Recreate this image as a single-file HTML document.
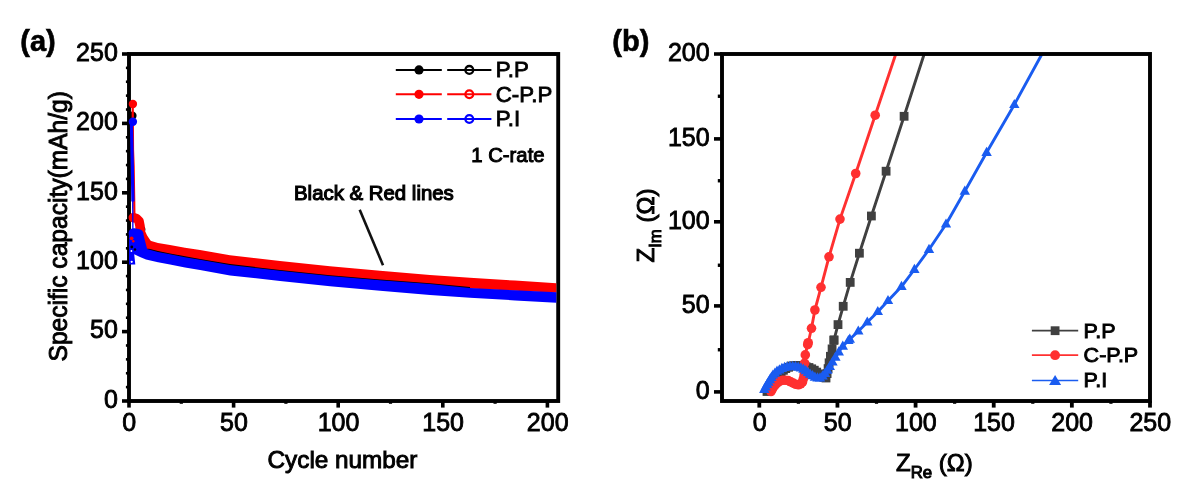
<!DOCTYPE html>
<html><head><meta charset="utf-8"><title>Figure</title>
<style>html,body{margin:0;padding:0;background:#fff;}svg{display:block;}text{font-family:"Liberation Sans",sans-serif;}</style></head>
<body>
<svg width="1188" height="492" viewBox="0 0 1188 492"  fill="#000">
<rect width="1188" height="492" fill="#fff"/>
<g id="left-axes">
<rect x="129.0" y="54.0" width="429.20" height="347.00" fill="none" stroke="#000" stroke-width="3.9"/>
<line x1="122.00" y1="401.00" x2="129.00" y2="401.00" stroke="#000" stroke-width="3.6" stroke-linecap="butt"/>
<line x1="122.00" y1="331.60" x2="129.00" y2="331.60" stroke="#000" stroke-width="3.6" stroke-linecap="butt"/>
<line x1="122.00" y1="262.20" x2="129.00" y2="262.20" stroke="#000" stroke-width="3.6" stroke-linecap="butt"/>
<line x1="122.00" y1="192.80" x2="129.00" y2="192.80" stroke="#000" stroke-width="3.6" stroke-linecap="butt"/>
<line x1="122.00" y1="123.40" x2="129.00" y2="123.40" stroke="#000" stroke-width="3.6" stroke-linecap="butt"/>
<line x1="122.00" y1="54.00" x2="129.00" y2="54.00" stroke="#000" stroke-width="3.6" stroke-linecap="butt"/>
<line x1="125.90" y1="387.12" x2="129.00" y2="387.12" stroke="#000" stroke-width="2.6" stroke-linecap="butt"/>
<line x1="125.90" y1="373.24" x2="129.00" y2="373.24" stroke="#000" stroke-width="2.6" stroke-linecap="butt"/>
<line x1="125.90" y1="359.36" x2="129.00" y2="359.36" stroke="#000" stroke-width="2.6" stroke-linecap="butt"/>
<line x1="125.90" y1="345.48" x2="129.00" y2="345.48" stroke="#000" stroke-width="2.6" stroke-linecap="butt"/>
<line x1="125.90" y1="317.72" x2="129.00" y2="317.72" stroke="#000" stroke-width="2.6" stroke-linecap="butt"/>
<line x1="125.90" y1="303.84" x2="129.00" y2="303.84" stroke="#000" stroke-width="2.6" stroke-linecap="butt"/>
<line x1="125.90" y1="289.96" x2="129.00" y2="289.96" stroke="#000" stroke-width="2.6" stroke-linecap="butt"/>
<line x1="125.90" y1="276.08" x2="129.00" y2="276.08" stroke="#000" stroke-width="2.6" stroke-linecap="butt"/>
<line x1="125.90" y1="248.32" x2="129.00" y2="248.32" stroke="#000" stroke-width="2.6" stroke-linecap="butt"/>
<line x1="125.90" y1="234.44" x2="129.00" y2="234.44" stroke="#000" stroke-width="2.6" stroke-linecap="butt"/>
<line x1="125.90" y1="220.56" x2="129.00" y2="220.56" stroke="#000" stroke-width="2.6" stroke-linecap="butt"/>
<line x1="125.90" y1="206.68" x2="129.00" y2="206.68" stroke="#000" stroke-width="2.6" stroke-linecap="butt"/>
<line x1="125.90" y1="178.92" x2="129.00" y2="178.92" stroke="#000" stroke-width="2.6" stroke-linecap="butt"/>
<line x1="125.90" y1="165.04" x2="129.00" y2="165.04" stroke="#000" stroke-width="2.6" stroke-linecap="butt"/>
<line x1="125.90" y1="151.16" x2="129.00" y2="151.16" stroke="#000" stroke-width="2.6" stroke-linecap="butt"/>
<line x1="125.90" y1="137.28" x2="129.00" y2="137.28" stroke="#000" stroke-width="2.6" stroke-linecap="butt"/>
<line x1="125.90" y1="109.52" x2="129.00" y2="109.52" stroke="#000" stroke-width="2.6" stroke-linecap="butt"/>
<line x1="125.90" y1="95.64" x2="129.00" y2="95.64" stroke="#000" stroke-width="2.6" stroke-linecap="butt"/>
<line x1="125.90" y1="81.76" x2="129.00" y2="81.76" stroke="#000" stroke-width="2.6" stroke-linecap="butt"/>
<line x1="125.90" y1="67.88" x2="129.00" y2="67.88" stroke="#000" stroke-width="2.6" stroke-linecap="butt"/>
<line x1="129.00" y1="401.00" x2="129.00" y2="407.60" stroke="#000" stroke-width="3.6" stroke-linecap="butt"/>
<line x1="233.60" y1="401.00" x2="233.60" y2="407.60" stroke="#000" stroke-width="3.6" stroke-linecap="butt"/>
<line x1="338.20" y1="401.00" x2="338.20" y2="407.60" stroke="#000" stroke-width="3.6" stroke-linecap="butt"/>
<line x1="442.80" y1="401.00" x2="442.80" y2="407.60" stroke="#000" stroke-width="3.6" stroke-linecap="butt"/>
<line x1="547.40" y1="401.00" x2="547.40" y2="407.60" stroke="#000" stroke-width="3.6" stroke-linecap="butt"/>
<line x1="181.30" y1="401.00" x2="181.30" y2="403.80" stroke="#000" stroke-width="3.2" stroke-linecap="butt"/>
<line x1="285.90" y1="401.00" x2="285.90" y2="403.80" stroke="#000" stroke-width="3.2" stroke-linecap="butt"/>
<line x1="390.50" y1="401.00" x2="390.50" y2="403.80" stroke="#000" stroke-width="3.2" stroke-linecap="butt"/>
<line x1="495.10" y1="401.00" x2="495.10" y2="403.80" stroke="#000" stroke-width="3.2" stroke-linecap="butt"/>
</g>
<g id="left-data">
<polygon points="146.0,239.6 158.0,243.0 170.0,245.1 185.0,247.8 200.0,250.0 230.0,255.2 280.0,261.0 330.0,266.3 380.0,270.8 430.0,275.0 470.0,277.7 515.0,280.6 556.3,283.2 556.3,292.8 515.0,290.8 470.0,288.5 430.0,284.6 380.0,280.8 330.0,276.6 280.0,271.3 230.0,265.5 200.0,260.3 185.0,257.7 170.0,254.8 158.0,252.5 146.0,249.3" fill="#f00"/>
<polygon points="146.0,247.9 158.0,251.1 170.0,253.4 185.0,256.3 200.0,258.9 230.0,264.1 280.0,269.9 330.0,275.2 380.0,279.4 430.0,283.2 470.0,287.1 470.0,288.9 430.0,285.0 380.0,281.2 330.0,277.0 280.0,271.7 230.0,265.9 200.0,260.7 185.0,258.1 170.0,255.2 158.0,252.9 146.0,249.7" fill="#000"/>
<circle cx="132.4" cy="115.8" r="4.2" fill="#000"/>
<circle cx="142" cy="229.5" r="3.4" fill="#000"/>
<polyline points="132.7,104 133,150 133.6,166 134.2,201 134.4,216" fill="none" stroke="#f00" stroke-width="2.2"/>
<circle cx="132.9" cy="104" r="4.2" fill="#f00"/>
<polyline points="133.3,217.6 136.5,218.5 139,221 140,226 140.3,232 143,238 147,244" fill="none" stroke="#f00" stroke-width="9.5" stroke-linecap="round" stroke-linejoin="round"/>
<circle cx="131.8" cy="238" r="2.6" fill="#f00"/>
<polygon points="146.0,248.8 158.0,252.0 170.0,254.3 185.0,257.2 200.0,259.8 230.0,265.0 280.0,270.8 330.0,276.1 380.0,280.3 430.0,284.1 470.0,288.0 515.0,290.3 556.3,292.3 556.3,302.7 515.0,300.4 470.0,297.8 430.0,295.1 380.0,290.8 330.0,286.2 280.0,281.0 230.0,275.4 200.0,270.1 185.0,267.5 170.0,264.6 158.0,262.3 146.0,259.5" fill="#00f"/>
<polyline points="131.4,122 132.4,170 132.9,201.5" fill="none" stroke="#00f" stroke-width="3.2"/>
<polyline points="132.7,201 132.9,232" fill="none" stroke="#00f" stroke-width="1.3"/>
<circle cx="132.9" cy="121.8" r="4.2" fill="#00f"/>
<polyline points="133.6,233.2 138.6,234.2" fill="none" stroke="#00f" stroke-width="10" stroke-linecap="round"/>
<polygon points="129,235 143.5,235 147,248.6 146,259.5 140,257 134.2,254.2 135.3,264.5 129,264.5" fill="#00f"/>
<circle cx="131.7" cy="261.8" r="1.1" fill="#fff"/>
<circle cx="131.6" cy="238.3" r="1.9" fill="#f00"/>
<circle cx="133.3" cy="241.2" r="1.2" fill="#f00"/>
<circle cx="131.8" cy="247" r="1.4" fill="#000"/>
<circle cx="135" cy="249.5" r="1.2" fill="#000"/>
<circle cx="131.4" cy="251" r="0.9" fill="#fff"/>
</g>
<g id="left-legend">
<line x1="395.80" y1="69.90" x2="441.80" y2="69.90" stroke="#000" stroke-width="2" stroke-linecap="butt"/>
<circle cx="419" cy="69.9" r="4.6" fill="#000"/>
<line x1="447.20" y1="69.90" x2="491.40" y2="69.90" stroke="#000" stroke-width="2" stroke-linecap="butt"/>
<circle cx="469.3" cy="69.9" r="3.9" fill="none" stroke="#000" stroke-width="2.3"/>
<text transform="translate(495.8,77.10) scale(1.045,1)" font-size="21.3" stroke="#000" stroke-width="0.8">P.P</text>
<line x1="395.80" y1="94.30" x2="441.80" y2="94.30" stroke="#f00" stroke-width="2" stroke-linecap="butt"/>
<circle cx="419" cy="94.3" r="4.6" fill="#f00"/>
<line x1="447.20" y1="94.30" x2="491.40" y2="94.30" stroke="#f00" stroke-width="2" stroke-linecap="butt"/>
<circle cx="469.3" cy="94.3" r="3.9" fill="none" stroke="#f00" stroke-width="2.3"/>
<text transform="translate(495.8,101.50) scale(1.045,1)" font-size="21.3" stroke="#000" stroke-width="0.8">C-P.P</text>
<line x1="395.80" y1="119.00" x2="441.80" y2="119.00" stroke="#00f" stroke-width="2" stroke-linecap="butt"/>
<circle cx="419" cy="119" r="4.6" fill="#00f"/>
<line x1="447.20" y1="119.00" x2="491.40" y2="119.00" stroke="#00f" stroke-width="2" stroke-linecap="butt"/>
<circle cx="469.3" cy="119" r="3.9" fill="none" stroke="#00f" stroke-width="2.3"/>
<text transform="translate(495.8,126.20) scale(1.045,1)" font-size="21.3" stroke="#000" stroke-width="0.8">P.I</text>
</g>
<text x="471.30" y="161.90" font-size="20.3" text-anchor="start" font-weight="normal" stroke="#000" stroke-width="1.0" >1 C-rate</text>
<text x="294.00" y="200.30" font-size="20.4" text-anchor="start" font-weight="normal" stroke="#000" stroke-width="1.15" >Black &amp; Red lines</text>
<line x1="359.70" y1="209.70" x2="383.00" y2="265.20" stroke="#111" stroke-width="2.6" stroke-linecap="butt"/>
<text x="117.80" y="407.70" font-size="25" text-anchor="end" font-weight="normal" stroke="#000" stroke-width="0.85" >0</text>
<text x="117.80" y="338.30" font-size="25" text-anchor="end" font-weight="normal" stroke="#000" stroke-width="0.85" >50</text>
<text x="117.80" y="268.90" font-size="25" text-anchor="end" font-weight="normal" stroke="#000" stroke-width="0.85" >100</text>
<text x="117.80" y="199.50" font-size="25" text-anchor="end" font-weight="normal" stroke="#000" stroke-width="0.85" >150</text>
<text x="117.80" y="130.10" font-size="25" text-anchor="end" font-weight="normal" stroke="#000" stroke-width="0.85" >200</text>
<text x="117.80" y="60.70" font-size="25" text-anchor="end" font-weight="normal" stroke="#000" stroke-width="0.85" >250</text>
<text x="129.30" y="430.90" font-size="25" text-anchor="middle" font-weight="normal" stroke="#000" stroke-width="0.85" >0</text>
<text x="233.90" y="430.90" font-size="25" text-anchor="middle" font-weight="normal" stroke="#000" stroke-width="0.85" >50</text>
<text x="338.50" y="430.90" font-size="25" text-anchor="middle" font-weight="normal" stroke="#000" stroke-width="0.85" >100</text>
<text x="443.10" y="430.90" font-size="25" text-anchor="middle" font-weight="normal" stroke="#000" stroke-width="0.85" >150</text>
<text x="547.70" y="430.90" font-size="25" text-anchor="middle" font-weight="normal" stroke="#000" stroke-width="0.85" >200</text>
<text x="342.50" y="468.20" font-size="24.3" text-anchor="middle" font-weight="normal" stroke="#000" stroke-width="0.95" >Cycle number</text>
<text transform="translate(67.3,226.3) rotate(-90) scale(0.953,1)" font-size="25.8" text-anchor="middle" stroke="#000" stroke-width="0.95">Specific capacity(mAh/g)</text>
<text x="20.30" y="50.50" font-size="29" text-anchor="start" font-weight="bold" stroke="#000" stroke-width="0.6" >(a)</text>
<g id="right-data">
<clipPath id="rc"><rect x="722" y="52.5" width="428" height="348"/></clipPath>
<g clip-path="url(#rc)">
<polyline points="767.0,391.5 770.0,386.0 774.0,380.0 779.0,374.0 785.0,369.0 791.0,366.0 797.0,365.5 803.0,366.0 809.0,367.5 814.0,370.0 818.5,373.5 822.5,377.0 826.0,378.0 827.5,372.0 828.7,365.0 830.0,358.0 832.0,349.5 834.0,339.8 838.0,324.6 843.2,306.3 850.2,282.4 859.4,253.2 871.4,216.0 886.1,171.2 904.1,116.3 924.2,54.0" fill="none" stroke="#404040" stroke-width="2.9" stroke-linejoin="round"/>
<rect x="762.6" y="387.1" width="8.8" height="8.8" fill="#404040"/>
<rect x="764.0" y="384.5" width="8.8" height="8.8" fill="#404040"/>
<rect x="765.5" y="381.8" width="8.8" height="8.8" fill="#404040"/>
<rect x="767.1" y="379.3" width="8.8" height="8.8" fill="#404040"/>
<rect x="768.8" y="376.8" width="8.8" height="8.8" fill="#404040"/>
<rect x="770.6" y="374.4" width="8.8" height="8.8" fill="#404040"/>
<rect x="772.5" y="372.1" width="8.8" height="8.8" fill="#404040"/>
<rect x="774.4" y="369.8" width="8.8" height="8.8" fill="#404040"/>
<rect x="776.7" y="367.9" width="8.8" height="8.8" fill="#404040"/>
<rect x="779.0" y="365.9" width="8.8" height="8.8" fill="#404040"/>
<rect x="781.4" y="364.2" width="8.8" height="8.8" fill="#404040"/>
<rect x="784.1" y="362.9" width="8.8" height="8.8" fill="#404040"/>
<rect x="786.8" y="361.6" width="8.8" height="8.8" fill="#404040"/>
<rect x="789.8" y="361.3" width="8.8" height="8.8" fill="#404040"/>
<rect x="792.8" y="361.1" width="8.8" height="8.8" fill="#404040"/>
<rect x="795.8" y="361.4" width="8.8" height="8.8" fill="#404040"/>
<rect x="798.7" y="361.6" width="8.8" height="8.8" fill="#404040"/>
<rect x="801.7" y="362.4" width="8.8" height="8.8" fill="#404040"/>
<rect x="804.6" y="363.1" width="8.8" height="8.8" fill="#404040"/>
<rect x="807.3" y="364.4" width="8.8" height="8.8" fill="#404040"/>
<rect x="809.9" y="365.8" width="8.8" height="8.8" fill="#404040"/>
<rect x="812.3" y="367.7" width="8.8" height="8.8" fill="#404040"/>
<rect x="814.6" y="369.5" width="8.8" height="8.8" fill="#404040"/>
<rect x="816.9" y="371.5" width="8.8" height="8.8" fill="#404040"/>
<rect x="819.4" y="373.0" width="8.8" height="8.8" fill="#404040"/>
<rect x="821.6" y="373.6" width="8.8" height="8.8" fill="#404040"/>
<rect x="822.7" y="369.2" width="8.8" height="8.8" fill="#404040"/>
<rect x="823.7" y="364.2" width="8.8" height="8.8" fill="#404040"/>
<rect x="824.7" y="358.4" width="8.8" height="8.8" fill="#404040"/>
<rect x="826.0" y="351.9" width="8.8" height="8.8" fill="#404040"/>
<rect x="827.7" y="344.5" width="8.8" height="8.8" fill="#404040"/>
<rect x="829.5" y="336.0" width="8.8" height="8.8" fill="#404040"/>
<rect x="829.6" y="335.4" width="8.8" height="8.8" fill="#404040"/>
<rect x="833.6" y="320.2" width="8.8" height="8.8" fill="#404040"/>
<rect x="838.8" y="301.9" width="8.8" height="8.8" fill="#404040"/>
<rect x="845.8" y="278.0" width="8.8" height="8.8" fill="#404040"/>
<rect x="855.0" y="248.8" width="8.8" height="8.8" fill="#404040"/>
<rect x="867.0" y="211.6" width="8.8" height="8.8" fill="#404040"/>
<rect x="881.7" y="166.8" width="8.8" height="8.8" fill="#404040"/>
<rect x="899.7" y="111.9" width="8.8" height="8.8" fill="#404040"/>
<polyline points="771.0,391.5 773.5,387.0 776.5,383.5 780.0,381.0 784.0,380.0 788.0,380.5 792.0,382.5 796.0,384.5 799.5,385.0 802.5,382.0 804.0,376.0 804.5,368.0 804.6,360.0 805.6,352.8 808.2,342.7 811.5,328.3 814.9,310.0 821.0,287.3 829.0,256.8 840.0,219.1 855.7,173.5 875.2,115.2 895.8,54.0" fill="none" stroke="#ff3030" stroke-width="2.9" stroke-linejoin="round"/>
<circle cx="771.0" cy="391.5" r="4.8" fill="#ff3030"/>
<circle cx="772.4" cy="389.1" r="4.8" fill="#ff3030"/>
<circle cx="773.8" cy="386.7" r="4.8" fill="#ff3030"/>
<circle cx="775.6" cy="384.5" r="4.8" fill="#ff3030"/>
<circle cx="777.7" cy="382.7" r="4.8" fill="#ff3030"/>
<circle cx="780.0" cy="381.0" r="4.8" fill="#ff3030"/>
<circle cx="782.7" cy="380.3" r="4.8" fill="#ff3030"/>
<circle cx="785.4" cy="380.2" r="4.8" fill="#ff3030"/>
<circle cx="788.2" cy="380.6" r="4.8" fill="#ff3030"/>
<circle cx="790.7" cy="381.8" r="4.8" fill="#ff3030"/>
<circle cx="793.2" cy="383.1" r="4.8" fill="#ff3030"/>
<circle cx="795.7" cy="384.3" r="4.8" fill="#ff3030"/>
<circle cx="798.4" cy="384.8" r="4.8" fill="#ff3030"/>
<circle cx="800.7" cy="383.8" r="4.8" fill="#ff3030"/>
<circle cx="802.5" cy="382.0" r="4.8" fill="#ff3030"/>
<circle cx="803.3" cy="378.9" r="4.8" fill="#ff3030"/>
<circle cx="804.1" cy="374.9" r="4.8" fill="#ff3030"/>
<circle cx="804.4" cy="369.8" r="4.8" fill="#ff3030"/>
<circle cx="804.6" cy="363.2" r="4.8" fill="#ff3030"/>
<circle cx="805.3" cy="354.9" r="4.8" fill="#ff3030"/>
<circle cx="807.7" cy="344.7" r="4.8" fill="#ff3030"/>
<circle cx="808.2" cy="342.7" r="4.8" fill="#ff3030"/>
<circle cx="811.5" cy="328.3" r="4.8" fill="#ff3030"/>
<circle cx="814.9" cy="310.0" r="4.8" fill="#ff3030"/>
<circle cx="821.0" cy="287.3" r="4.8" fill="#ff3030"/>
<circle cx="829.0" cy="256.8" r="4.8" fill="#ff3030"/>
<circle cx="840.0" cy="219.1" r="4.8" fill="#ff3030"/>
<circle cx="855.7" cy="173.5" r="4.8" fill="#ff3030"/>
<circle cx="875.2" cy="115.2" r="4.8" fill="#ff3030"/>
<polyline points="764.3,389.6 766.5,385.5 769.5,380.5 773.0,375.0 777.5,371.0 783.0,368.0 789.0,366.5 795.0,366.5 801.0,368.0 806.0,371.0 811.0,375.0 816.0,378.0 820.0,378.0 824.0,375.0 828.0,369.5 832.0,363.0 836.0,356.5 839.5,351.0 843.0,346.0 849.8,339.3 858.3,331.2 867.3,322.2 877.8,311.7 888.0,300.7 901.5,286.6 914.4,269.5 929.0,249.5 946.0,224.2 964.8,191.3 986.6,152.5 1014.3,104.7 1042.0,54.0" fill="none" stroke="#1a5cf0" stroke-width="2.9" stroke-linejoin="round"/>
<polygon points="764.3,383.8 759.1,393.0 769.5,393.0" fill="#1a5cf0"/>
<polygon points="765.6,381.3 760.4,390.5 770.8,390.5" fill="#1a5cf0"/>
<polygon points="767.0,378.9 761.8,388.1 772.2,388.1" fill="#1a5cf0"/>
<polygon points="768.4,376.5 763.2,385.7 773.6,385.7" fill="#1a5cf0"/>
<polygon points="769.9,374.1 764.7,383.3 775.1,383.3" fill="#1a5cf0"/>
<polygon points="771.4,371.7 766.2,380.9 776.6,380.9" fill="#1a5cf0"/>
<polygon points="772.9,369.4 767.7,378.6 778.1,378.6" fill="#1a5cf0"/>
<polygon points="774.9,367.5 769.7,376.7 780.1,376.7" fill="#1a5cf0"/>
<polygon points="777.0,365.6 771.8,374.8 782.2,374.8" fill="#1a5cf0"/>
<polygon points="779.4,364.2 774.2,373.4 784.6,373.4" fill="#1a5cf0"/>
<polygon points="781.9,362.8 776.7,372.0 787.1,372.0" fill="#1a5cf0"/>
<polygon points="784.5,361.8 779.3,371.0 789.7,371.0" fill="#1a5cf0"/>
<polygon points="787.2,361.2 782.0,370.4 792.4,370.4" fill="#1a5cf0"/>
<polygon points="789.9,360.7 784.7,369.9 795.1,369.9" fill="#1a5cf0"/>
<polygon points="792.7,360.7 787.5,369.9 797.9,369.9" fill="#1a5cf0"/>
<polygon points="795.5,360.8 790.3,370.0 800.7,370.0" fill="#1a5cf0"/>
<polygon points="798.2,361.5 793.0,370.7 803.4,370.7" fill="#1a5cf0"/>
<polygon points="800.9,362.2 795.7,371.4 806.1,371.4" fill="#1a5cf0"/>
<polygon points="803.4,363.6 798.2,372.8 808.6,372.8" fill="#1a5cf0"/>
<polygon points="805.8,365.1 800.6,374.3 811.0,374.3" fill="#1a5cf0"/>
<polygon points="808.0,366.8 802.8,376.0 813.2,376.0" fill="#1a5cf0"/>
<polygon points="810.1,368.5 804.9,377.7 815.3,377.7" fill="#1a5cf0"/>
<polygon points="812.5,370.1 807.3,379.3 817.7,379.3" fill="#1a5cf0"/>
<polygon points="814.9,371.5 809.7,380.7 820.1,380.7" fill="#1a5cf0"/>
<polygon points="817.5,372.2 812.3,381.4 822.7,381.4" fill="#1a5cf0"/>
<polygon points="820.0,372.2 814.8,381.4 825.2,381.4" fill="#1a5cf0"/>
<polygon points="822.6,370.3 817.4,379.5 827.8,379.5" fill="#1a5cf0"/>
<polygon points="825.0,367.8 819.8,377.0 830.2,377.0" fill="#1a5cf0"/>
<polygon points="827.4,364.5 822.2,373.7 832.6,373.7" fill="#1a5cf0"/>
<polygon points="829.8,360.7 824.6,369.9 835.0,369.9" fill="#1a5cf0"/>
<polygon points="832.5,356.4 827.3,365.6 837.7,365.6" fill="#1a5cf0"/>
<polygon points="835.4,351.6 830.2,360.8 840.6,360.8" fill="#1a5cf0"/>
<polygon points="838.8,346.3 833.6,355.5 844.0,355.5" fill="#1a5cf0"/>
<polygon points="842.8,340.5 837.6,349.7 848.0,349.7" fill="#1a5cf0"/>
<polygon points="848.4,334.9 843.2,344.1 853.6,344.1" fill="#1a5cf0"/>
<polygon points="849.8,333.5 844.6,342.7 855.0,342.7" fill="#1a5cf0"/>
<polygon points="858.3,325.4 853.1,334.6 863.5,334.6" fill="#1a5cf0"/>
<polygon points="867.3,316.4 862.1,325.6 872.5,325.6" fill="#1a5cf0"/>
<polygon points="877.8,305.9 872.6,315.1 883.0,315.1" fill="#1a5cf0"/>
<polygon points="888.0,294.9 882.8,304.1 893.2,304.1" fill="#1a5cf0"/>
<polygon points="901.5,280.8 896.3,290.0 906.7,290.0" fill="#1a5cf0"/>
<polygon points="914.4,263.7 909.2,272.9 919.6,272.9" fill="#1a5cf0"/>
<polygon points="929.0,243.7 923.8,252.9 934.2,252.9" fill="#1a5cf0"/>
<polygon points="946.0,218.4 940.8,227.6 951.2,227.6" fill="#1a5cf0"/>
<polygon points="964.8,185.5 959.6,194.7 970.0,194.7" fill="#1a5cf0"/>
<polygon points="986.6,146.7 981.4,155.9 991.8,155.9" fill="#1a5cf0"/>
<polygon points="1014.3,98.9 1009.1,108.1 1019.5,108.1" fill="#1a5cf0"/>
</g>
</g>
<g id="right-axes">
<rect x="722.0" y="54.0" width="428.00" height="347.00" fill="none" stroke="#000" stroke-width="3.9"/>
<line x1="714.00" y1="391.90" x2="722.00" y2="391.90" stroke="#000" stroke-width="3.6" stroke-linecap="butt"/>
<line x1="714.00" y1="305.90" x2="722.00" y2="305.90" stroke="#000" stroke-width="3.6" stroke-linecap="butt"/>
<line x1="714.00" y1="221.80" x2="722.00" y2="221.80" stroke="#000" stroke-width="3.6" stroke-linecap="butt"/>
<line x1="714.00" y1="138.90" x2="722.00" y2="138.90" stroke="#000" stroke-width="3.6" stroke-linecap="butt"/>
<line x1="714.00" y1="54.00" x2="722.00" y2="54.00" stroke="#000" stroke-width="3.6" stroke-linecap="butt"/>
<line x1="717.80" y1="349.75" x2="722.00" y2="349.75" stroke="#000" stroke-width="3.4" stroke-linecap="butt"/>
<line x1="717.80" y1="265.25" x2="722.00" y2="265.25" stroke="#000" stroke-width="3.4" stroke-linecap="butt"/>
<line x1="717.80" y1="180.75" x2="722.00" y2="180.75" stroke="#000" stroke-width="3.4" stroke-linecap="butt"/>
<line x1="717.80" y1="96.25" x2="722.00" y2="96.25" stroke="#000" stroke-width="3.4" stroke-linecap="butt"/>
<line x1="759.30" y1="401.00" x2="759.30" y2="407.60" stroke="#000" stroke-width="3.8" stroke-linecap="butt"/>
<line x1="837.44" y1="401.00" x2="837.44" y2="407.60" stroke="#000" stroke-width="3.8" stroke-linecap="butt"/>
<line x1="915.58" y1="401.00" x2="915.58" y2="407.60" stroke="#000" stroke-width="3.8" stroke-linecap="butt"/>
<line x1="993.72" y1="401.00" x2="993.72" y2="407.60" stroke="#000" stroke-width="3.8" stroke-linecap="butt"/>
<line x1="1071.86" y1="401.00" x2="1071.86" y2="407.60" stroke="#000" stroke-width="3.8" stroke-linecap="butt"/>
<line x1="1150.00" y1="401.00" x2="1150.00" y2="407.60" stroke="#000" stroke-width="3.8" stroke-linecap="butt"/>
<line x1="798.37" y1="401.00" x2="798.37" y2="403.80" stroke="#000" stroke-width="3.2" stroke-linecap="butt"/>
<line x1="876.51" y1="401.00" x2="876.51" y2="403.80" stroke="#000" stroke-width="3.2" stroke-linecap="butt"/>
<line x1="954.65" y1="401.00" x2="954.65" y2="403.80" stroke="#000" stroke-width="3.2" stroke-linecap="butt"/>
<line x1="1032.79" y1="401.00" x2="1032.79" y2="403.80" stroke="#000" stroke-width="3.2" stroke-linecap="butt"/>
<line x1="1110.93" y1="401.00" x2="1110.93" y2="403.80" stroke="#000" stroke-width="3.2" stroke-linecap="butt"/>
</g>
<g id="right-legend">
<line x1="1031.90" y1="330.70" x2="1078.20" y2="330.70" stroke="#404040" stroke-width="1.7" stroke-linecap="butt"/>
<rect x="1050.6999999999998" y="326.3" width="8.8" height="8.8" fill="#404040"/>
<text transform="translate(1083.6,337.50) scale(1.035,1)" font-size="20.8" stroke="#000" stroke-width="0.9">P.P</text>
<line x1="1031.90" y1="355.20" x2="1078.20" y2="355.20" stroke="#ff3030" stroke-width="1.7" stroke-linecap="butt"/>
<circle cx="1055.1" cy="355.2" r="4.9" fill="#ff3030"/>
<text transform="translate(1083.6,362.00) scale(1.035,1)" font-size="20.8" stroke="#000" stroke-width="0.9">C-P.P</text>
<line x1="1031.90" y1="380.50" x2="1078.20" y2="380.50" stroke="#1a5cf0" stroke-width="1.7" stroke-linecap="butt"/>
<polygon points="1055.1,374.9 1049.1,385.0 1061.1,385.0" fill="#1a5cf0"/>
<text transform="translate(1083.6,387.30) scale(1.035,1)" font-size="20.8" stroke="#000" stroke-width="0.9">P.I</text>
</g>
<text x="709.60" y="398.70" font-size="25" text-anchor="end" font-weight="normal" stroke="#000" stroke-width="0.85" >0</text>
<text x="709.60" y="312.70" font-size="25" text-anchor="end" font-weight="normal" stroke="#000" stroke-width="0.85" >50</text>
<text x="709.60" y="228.60" font-size="25" text-anchor="end" font-weight="normal" stroke="#000" stroke-width="0.85" >100</text>
<text x="709.60" y="145.70" font-size="25" text-anchor="end" font-weight="normal" stroke="#000" stroke-width="0.85" >150</text>
<text x="709.60" y="60.80" font-size="25" text-anchor="end" font-weight="normal" stroke="#000" stroke-width="0.85" >200</text>
<text x="759.60" y="431.00" font-size="25" text-anchor="middle" font-weight="normal" stroke="#000" stroke-width="0.85" >0</text>
<text x="837.74" y="431.00" font-size="25" text-anchor="middle" font-weight="normal" stroke="#000" stroke-width="0.85" >50</text>
<text x="915.88" y="431.00" font-size="25" text-anchor="middle" font-weight="normal" stroke="#000" stroke-width="0.85" >100</text>
<text x="994.02" y="431.00" font-size="25" text-anchor="middle" font-weight="normal" stroke="#000" stroke-width="0.85" >150</text>
<text x="1072.16" y="431.00" font-size="25" text-anchor="middle" font-weight="normal" stroke="#000" stroke-width="0.85" >200</text>
<text x="1150.30" y="431.00" font-size="25" text-anchor="middle" font-weight="normal" stroke="#000" stroke-width="0.85" >250</text>
<text x="896" y="471.4" font-size="24" stroke="#000" stroke-width="0.95">Z<tspan font-size="16.8" dy="6.8" stroke-width="1.0">Re</tspan><tspan dy="-6.8"> (Ω)</tspan></text>
<text transform="translate(653.8,262.5) rotate(-90)" font-size="24" stroke="#000" stroke-width="0.95">Z<tspan font-size="16.8" dy="6.8" stroke-width="1.0">Im</tspan><tspan dy="-6.8"> (Ω)</tspan></text>
<text x="612.30" y="50.50" font-size="29" text-anchor="start" font-weight="bold" stroke="#000" stroke-width="0.6" >(b)</text>
</svg>
</body></html>
